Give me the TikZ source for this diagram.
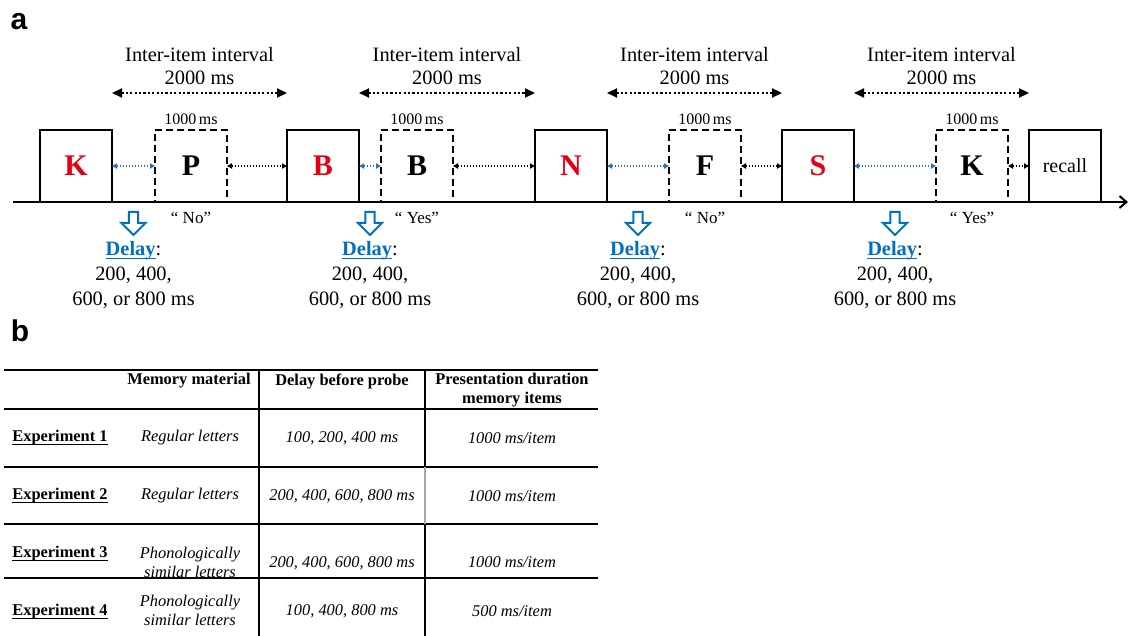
\documentclass[tikz,border=0pt]{standalone}
\usepackage{amsmath}
\usepackage{fontspec}
\setmainfont{Liberation Serif}
\newfontfamily\panelfont{Liberation Sans}
\usepackage{xcolor}
\usetikzlibrary{arrows.meta,positioning,calc}
\definecolor{letterred}{RGB}{228,0,20}
\definecolor{delayblue}{RGB}{0,112,192}
\definecolor{gapblue}{RGB}{46,117,182}
\newcommand{\lowline}[1]{\underline{\smash[b]{#1}}}
\newcommand{\delaytxt}{\textcolor{delayblue}{\textbf{\lowline{Delay}}}:\\200, 400,\\600, or 800 ms}

\begin{document}
\begin{tikzpicture}[x=0.5pt,y=-0.5pt,
  item/.style={rectangle,draw,line width=1.2pt,minimum width=36pt,minimum height=36pt,inner sep=0pt,outer sep=0pt},
  probe/.style={item,dash pattern=on 3.5pt off 2pt},
  study/.style={font=\fontsize{15}{18}\selectfont\bfseries,text=letterred},
  test/.style={font=\fontsize{15}{18}\selectfont\bfseries},
  gap/.style={{Triangle[length=2.5pt,width=2.6pt]}-{Triangle[length=2.5pt,width=2.6pt]},line width=0.7pt,dash pattern=on 0.7pt off 0.8pt},
  iti/.style={{Triangle[length=5pt,width=4.5pt]}-{Triangle[length=5pt,width=4.5pt]},line width=1.1pt,dash pattern=on 1.1pt off 1.1pt},
  iilabel/.style={align=center,font=\fontsize{10.2}{11.6}\selectfont,inner sep=1pt},
  dur/.style={font=\fontsize{8}{9.6}\selectfont,inner sep=1pt},
  answer/.style={font=\fontsize{8.5}{10}\selectfont,inner sep=1pt},
  delayarrow/.pic={
    \draw[delayblue,line width=1pt,fill=white] (-2.3pt,0pt) -- (2.3pt,0pt) -- (2.3pt,-5.5pt) -- (6pt,-5.5pt)
      -- (0pt,-11.5pt) -- (-6pt,-5.5pt) -- (-2.3pt,-5.5pt) -- cycle;
    \coordinate (-tip) at (0pt,-11.5pt);
  },
  delaytext/.style={align=center,font=\fontsize{10.2}{12.4}\selectfont,inner sep=1pt},
  panel/.style={font=\panelfont\bfseries\fontsize{15}{18}\selectfont},
  rule/.style={line width=0.75pt},
  th/.style={font=\fontsize{8.2}{9.4}\selectfont\bfseries,align=center},
  exp/.style={font=\fontsize{8.2}{9.4}\selectfont\bfseries},
  cell/.style={font=\fontsize{8.2}{9.6}\selectfont\itshape,align=center}
]
\useasboundingbox (0,0) rectangle (1129,636);

% panel a
\node[panel] (pa) at (19,22) {a};
\coordinate (t0) at (13,202);
\coordinate (t1) at (1128,202);
\draw[line width=1pt,-{Straight Barb[length=3.5pt,width=6pt]}] (t0) -- (t1);

\node[item,study] (K) at (76,166) {K};
\node[probe,test,right=21.5pt of K] (P) {P};
\node[item,study,right=30pt of P] (B) {B};
\node[probe,test,right=11pt of B] (Bp) {B};
\node[item,study,right=41pt of Bp] (N) {N};
\node[probe,test,right=31pt of N] (F) {F};
\node[item,study,right=20.5pt of F] (S) {S};
\node[probe,test,right=41pt of S] (Kp) {K};
\node[item,right=10.5pt of Kp,font=\fontsize{10}{12}\selectfont] (recall) {recall};

\draw[gap,gapblue] (K) -- (P);
\draw[gap] (P) -- (B);
\draw[gap,gapblue] (B) -- (Bp);
\draw[gap] (Bp) -- (N);
\draw[gap,gapblue] (N) -- (F);
\draw[gap] (F) -- (S);
\draw[gap,gapblue] (S) -- (Kp);
\draw[gap] (Kp) -- (recall);

% inter-item intervals
\coordinate[above=18.5pt of K.north east] (i1l);
\coordinate[above=18.5pt of B.north west] (i1r);
\coordinate[above=18.5pt of B.north east] (i2l);
\coordinate[above=18.5pt of N.north west] (i2r);
\coordinate[above=18.5pt of N.north east] (i3l);
\coordinate[above=18.5pt of S.north west] (i3r);
\coordinate[above=18.5pt of S.north east] (i4l);
\coordinate[above=18.5pt of recall.north west] (i4r);
\draw[iti] (i1l) -- node[iilabel,above=2.5pt] (il1) {Inter-item interval\\2000 ms} (i1r);
\draw[iti] (i2l) -- node[iilabel,above=2.5pt] (il2) {Inter-item interval\\2000 ms} (i2r);
\draw[iti] (i3l) -- node[iilabel,above=2.5pt] (il3) {Inter-item interval\\2000 ms} (i3r);
\draw[iti] (i4l) -- node[iilabel,above=2.5pt] (il4) {Inter-item interval\\2000 ms} (i4r);

\node[dur,above=1.3pt of P] (durP) {1000\,ms};
\node[dur,above=1.3pt of Bp] (durBp) {1000\,ms};
\node[dur,above=1.3pt of F] (durF) {1000\,ms};
\node[dur,above=1.3pt of Kp] (durKp) {1000\,ms};

\node[answer,below=4pt of P] (ansP) {“ No”};
\node[answer,below=4pt of Bp] (ansBp) {“ Yes”};
\node[answer,below=4pt of F] (ansF) {“ No”};
\node[answer,below=4pt of Kp] (ansKp) {“ Yes”};

% delays
\coordinate (d1) at ($(K.south east)!0.5!(P.south west)$);
\coordinate (d2) at ($(B.south east)!0.5!(Bp.south west)$);
\coordinate (d3) at ($(N.south east)!0.5!(F.south west)$);
\coordinate (d4) at ($(S.south east)!0.5!(Kp.south west)$);
\pic (da1) at ([yshift=-5pt]d1) {delayarrow};
\pic (da2) at ([yshift=-5pt]d2) {delayarrow};
\pic (da3) at ([yshift=-5pt]d3) {delayarrow};
\pic (da4) at ([yshift=-5pt]d4) {delayarrow};
\node[delaytext,below=2.2pt of da1-tip] (dt1) {\delaytxt};
\node[delaytext,below=2.2pt of da2-tip] (dt2) {\delaytxt};
\node[delaytext,below=2.2pt of da3-tip] (dt3) {\delaytxt};
\node[delaytext,below=2.2pt of da4-tip] (dt4) {\delaytxt};

% panel b
\node[panel] (pb) at (20,331) {b};
\draw[rule] (4,370) -- (598,370);
\draw[rule] (4,409) -- (598,409);
\draw[rule] (4,467) -- (598,467);
\draw[rule] (4,524) -- (598,524);
\draw[rule] (4,578) -- (598,578);
\draw[rule] (259,370) -- (259,636);
\draw[rule] (425,370) -- (425,467);
\draw[rule,gray!70] (425,467) -- (425,524);
\draw[rule] (425,524) -- (425,636);

\node[th] (h2) at (189,381) {Memory material};
\node[th] (h3) at (342,381) {Delay before probe};
\node[th] (h4) at (512,390) {Presentation duration\\memory items};

\node[exp] (e1) at (60,438) {\lowline{Experiment 1}};
\node[cell] (m1) at (190,438) {Regular letters};
\node[cell] (d1t) at (342,438) {100, 200, 400 ms};
\node[cell] (p1) at (512,438) {1000 ms/item};

\node[exp] (e2) at (60,496) {\lowline{Experiment 2}};
\node[cell] (m2) at (190,496) {Regular letters};
\node[cell] (d2t) at (342,496) {200, 400, 600, 800 ms};
\node[cell] (p2) at (512,496) {1000 ms/item};

\node[exp] (e3) at (60,554) {\lowline{Experiment 3}};
\node[cell] (m3) at (190,562.5) {Phonologically\\similar letters};
\node[cell] (d3t) at (342,563) {200, 400, 600, 800 ms};
\node[cell] (p3) at (512,562) {1000 ms/item};

\node[exp] (e4) at (60,612) {\lowline{Experiment 4}};
\node[cell] (m4) at (190,610.5) {Phonologically\\similar letters};
\node[cell] (d4t) at (342,611) {100, 400, 800 ms};
\node[cell] (p4) at (512,611) {500 ms/item};
\end{tikzpicture}
\end{document}
